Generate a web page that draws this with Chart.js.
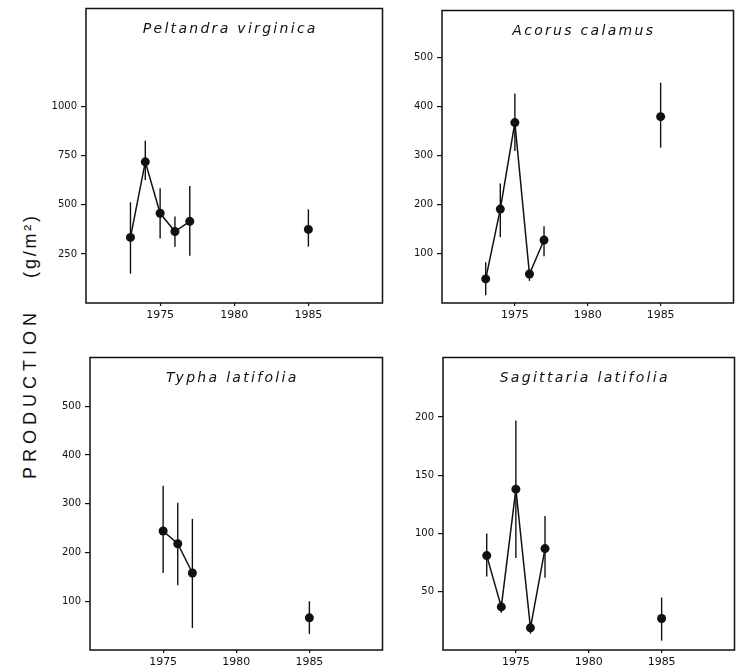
<!DOCTYPE html>
<html>
<head>
<meta charset="utf-8">
<script src="https://cdn.jsdelivr.net/npm/chart.js@4.4.1/dist/chart.umd.min.js"></script>
<style>
  body { margin: 0; background: #fff; width: 736px; height: 672px; position: relative; overflow: hidden; font-family: "Liberation Sans", sans-serif; }
  .panel { position: absolute; }
  #ylab { position: absolute; left: 30px; top: 346px; transform: translate(-50%, -50%) rotate(-90deg);
          white-space: nowrap; font-size: 18px; color: #111; }
  #ylab .w1 { letter-spacing: 5px; }
  #ylab .w2 { letter-spacing: 2.8px; margin-left: 30px; }
</style>
</head>
<body>
<div id="ylab"><span class="w1">PRODUCTION</span><span class="w2">(g/m²)</span></div>
<div class="panel" id="p1"><canvas id="c1"></canvas></div>
<div class="panel" id="p2"><canvas id="c2"></canvas></div>
<div class="panel" id="p3"><canvas id="c3"></canvas></div>
<div class="panel" id="p4"><canvas id="c4"></canvas></div>
<script>
// years sampled
const years = [1973, 1974, 1975, 1976, 1977, 1985];
const typhaYears = [1975, 1976, 1977, 1985];
const yearTicks = [1975, 1980, 1985];

// Peltandra virginica
const peltandraMean = [334, 719, 457, 364, 416, 375];
const peltandraLow  = [149, 626, 328, 287, 241, 287];
const peltandraHigh = [513, 827, 585, 441, 596, 477];
const peltandraTicks = [250, 500, 750, 1000];

// Acorus calamus
const acorusMean = [49, 191, 367, 59, 128, 379];
const acorusLow  = [16, 134, 309, 45, 95, 316];
const acorusHigh = [83, 243, 426, 67, 156, 448];
const acorusTicks = [100, 200, 300, 400, 500];

// Typha latifolia
const typhaMean = [244, 218, 158, 66];
const typhaLow  = [158, 133, 45, 33];
const typhaHigh = [337, 302, 269, 100];
const typhaTicks = [100, 200, 300, 400, 500];

// Sagittaria latifolia
const sagittariaMean = [81, 37, 138, 19, 87, 27];
const sagittariaLow  = [63, 32, 79, 14, 62, 8];
const sagittariaHigh = [100, 42, 197, 23, 115, 45];
const sagittariaTicks = [50, 100, 150, 200];

const INK = '#111';
const FONT = '"DejaVu Sans", sans-serif';

// plot boxes in page pixels: left, top, right, bottom
const panels = [
  { id: 'c1', box: 'p1', title: 'Peltandra virginica', rect: [86, 8, 383, 303], yMax: 1500,
    xs: years, mean: peltandraMean, lo: peltandraLow, hi: peltandraHigh, ticks: peltandraTicks },
  { id: 'c2', box: 'p2', title: 'Acorus calamus', rect: [442, 10, 734, 303], yMax: 595,
    xs: years, mean: acorusMean, lo: acorusLow, hi: acorusHigh, ticks: acorusTicks },
  { id: 'c3', box: 'p3', title: 'Typha latifolia', rect: [90, 357, 383, 650], yMax: 600,
    xs: typhaYears, mean: typhaMean, lo: typhaLow, hi: typhaHigh, ticks: typhaTicks },
  { id: 'c4', box: 'p4', title: 'Sagittaria latifolia', rect: [443, 357, 735, 650], yMax: 251,
    xs: years, mean: sagittariaMean, lo: sagittariaLow, hi: sagittariaHigh, ticks: sagittariaTicks }
];

const AXW = 56, AXH = 26, PAD = 4;

// frame, error bars and title drawn inside the plot
const extras = {
  id: 'extras',
  beforeDatasetsDraw(chart, args, opts) {
    const { ctx, chartArea: a, scales: { x, y } } = chart;
    ctx.save();
    ctx.strokeStyle = INK;
    ctx.lineWidth = 1.5;
    ctx.strokeRect(a.left, a.top, a.right - a.left, a.bottom - a.top);
    ctx.lineWidth = 1.4;
    opts.xs.forEach((yr, i) => {
      const px = x.getPixelForValue(yr);
      ctx.beginPath();
      ctx.moveTo(px, y.getPixelForValue(opts.lo[i]));
      ctx.lineTo(px, y.getPixelForValue(opts.hi[i]));
      ctx.stroke();
    });
    ctx.fillStyle = INK;
    ctx.font = 'italic 14px ' + FONT;
    ctx.letterSpacing = '2.3px';
    ctx.textAlign = 'center';
    ctx.textBaseline = 'middle';
    ctx.fillText(opts.title, (a.left + a.right) / 2 - 4, a.top + 21);
    ctx.restore();
  }
};

panels.forEach(p => {
  const [L, T, R, B] = p.rect;
  const wrap = document.getElementById(p.box);
  const cv = document.getElementById(p.id);
  const w = (R - L) + AXW + PAD, h = (B - T) + PAD + AXH;
  wrap.style.left = (L - AXW) + 'px';
  wrap.style.top = (T - PAD) + 'px';
  cv.width = w; cv.height = h;
  cv.style.width = w + 'px'; cv.style.height = h + 'px';

  new Chart(cv, {
    type: 'line',
    data: {
      datasets: [{
        data: p.xs.map((yr, i) => ({ x: yr, y: p.mean[i] })),
        borderColor: INK,
        borderWidth: 1.5,
        pointRadius: 4.5,
        pointBackgroundColor: INK,
        pointBorderWidth: 0,
        tension: 0,
        // no line across the gap to 1985
        segment: { borderColor: c => (c.p1.parsed.x - c.p0.parsed.x > 2 ? 'rgba(0,0,0,0)' : INK) }
      }]
    },
    options: {
      responsive: false,
      animation: false,
      layout: { padding: { top: PAD, right: PAD, left: 0, bottom: 0 } },
      plugins: {
        legend: { display: false },
        tooltip: { enabled: false },
        extras: { title: p.title, xs: p.xs, lo: p.lo, hi: p.hi }
      },
      scales: {
        x: {
          type: 'linear', min: 1970, max: 1990,
          afterBuildTicks: s => { s.ticks = yearTicks.map(v => ({ value: v })); },
          afterFit: s => { s.height = AXH; s.paddingLeft = 0; s.paddingRight = 0; },
          grid: { drawOnChartArea: false, tickLength: 3, color: INK, lineWidth: 1.2 },
          border: { display: false },
          ticks: { color: INK, font: { size: 11, family: FONT }, padding: 3, maxRotation: 0, callback: v => String(v) }
        },
        y: {
          min: 0, max: p.yMax,
          afterBuildTicks: s => { s.ticks = p.ticks.map(v => ({ value: v })); },
          afterFit: s => { s.width = AXW; s.paddingTop = 0; s.paddingBottom = 0; },
          grid: { drawOnChartArea: false, tickLength: 5, color: INK, lineWidth: 1.2 },
          border: { display: false },
          ticks: { color: INK, font: { size: 10, family: FONT }, padding: 4, callback: v => String(v) }
        }
      }
    },
    plugins: [extras]
  });
});
</script>
</body>
</html>
